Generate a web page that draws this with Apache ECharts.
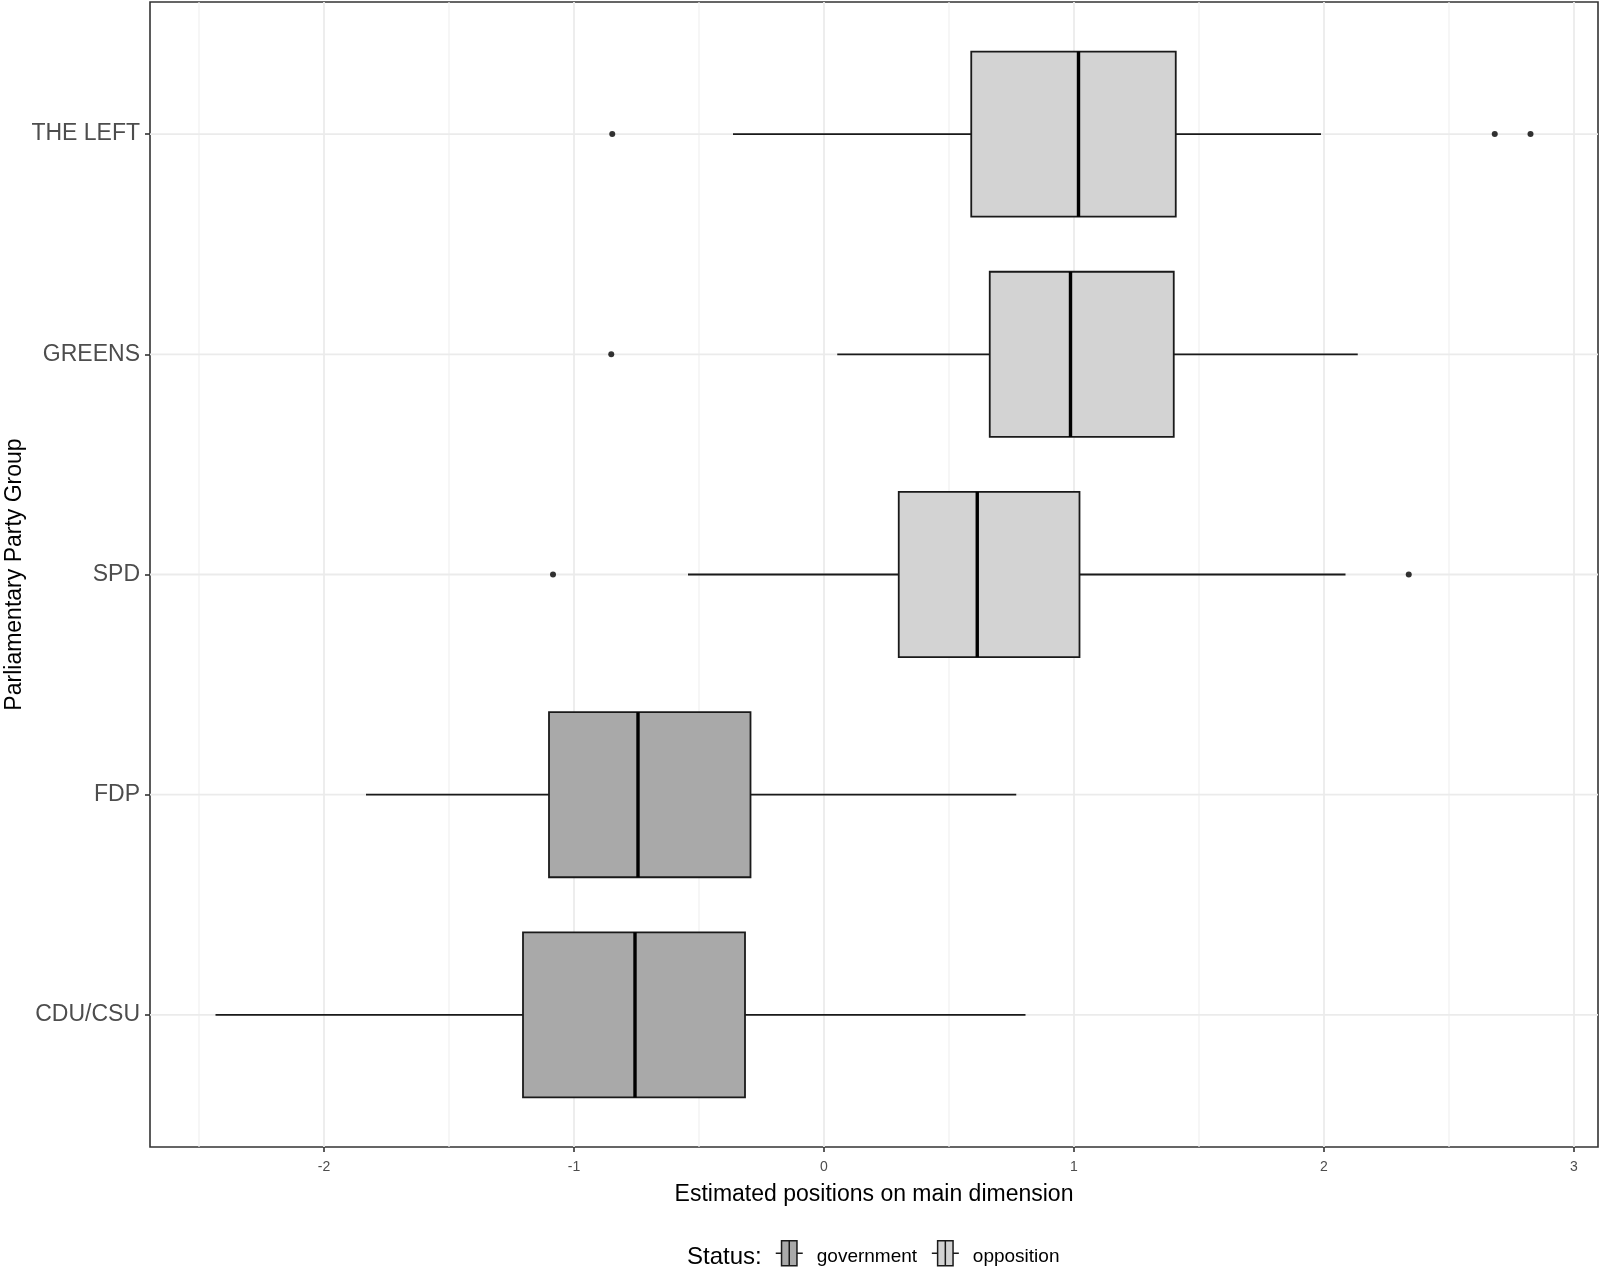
<!DOCTYPE html>
<html>
<head>
<meta charset="utf-8">
<script src="https://cdn.jsdelivr.net/npm/echarts@6/dist/echarts.min.js"></script>
<style>
html,body{margin:0;padding:0;background:#fff;}
#chart{width:1600px;height:1270px;}
</style>
</head>
<body>
<div id="chart"></div>
<script>
// ---- data ----
const categories = ['CDU/CSU', 'FDP', 'SPD', 'GREENS', 'THE LEFT'];
const status = ['government', 'government', 'opposition', 'opposition', 'opposition'];
const whiskerLow = [-2.434, -1.832, -0.544, 0.053, -0.364];
const q1 = [-1.204, -1.100, 0.299, 0.663, 0.589];
const median = [-0.756, -0.744, 0.613, 0.986, 1.018];
const q3 = [-0.316, -0.294, 1.022, 1.399, 1.407];
const whiskerHigh = [0.806, 0.769, 2.086, 2.135, 1.988];
const outlierParty = ['SPD', 'SPD', 'GREENS', 'THE LEFT', 'THE LEFT', 'THE LEFT'];
const outlierValue = [-1.084, 2.339, -0.851, -0.847, 2.683, 2.826];
const xTicks = [-2, -1, 0, 1, 2, 3];
const xMinor = [-2.5, -1.5, -0.5, 0.5, 1.5, 2.5];
const statusLevels = ['government', 'opposition'];

const FONT = 'Liberation Sans, Arial, sans-serif';
const fillColors = { government: '#A9A9A9', opposition: '#D3D3D3' };
const X_MIN = -2.696, X_MAX = 3.096, Y_MIN = -0.6, Y_MAX = categories.length - 1 + 0.6;

function boxRows(st) {
  const rows = [];
  categories.forEach((c, i) => {
    if (status[i] === st) rows.push([i, whiskerLow[i], q1[i], median[i], q3[i], whiskerHigh[i]]);
  });
  return rows;
}

function renderBox(params, api) {
  const y = api.value(0);
  const pLow = api.coord([api.value(1), y]);
  const pQ1 = api.coord([api.value(2), y]);
  const pMed = api.coord([api.value(3), y]);
  const pQ3 = api.coord([api.value(4), y]);
  const pHigh = api.coord([api.value(5), y]);
  const h = api.size([0, 0.75])[1];
  const fill = api.visual('color');
  const stroke = '#1a1a1a';
  return {
    type: 'group',
    children: [
      { type: 'line', shape: { x1: pLow[0], y1: pLow[1], x2: pQ1[0], y2: pQ1[1] }, style: { stroke: stroke, lineWidth: 1.8 } },
      { type: 'line', shape: { x1: pQ3[0], y1: pQ3[1], x2: pHigh[0], y2: pHigh[1] }, style: { stroke: stroke, lineWidth: 1.8 } },
      { type: 'rect', shape: { x: pQ1[0], y: pQ1[1] - h / 2, width: pQ3[0] - pQ1[0], height: h }, style: { fill: fill, stroke: stroke, lineWidth: 1.8 } },
      { type: 'line', shape: { x1: pMed[0], y1: pMed[1] - h / 2, x2: pMed[0], y2: pMed[1] + h / 2 }, style: { stroke: '#000', lineWidth: 3.4 } }
    ]
  };
}

// grid lines data: [kind, value]; kind 0 = major vertical, 1 = minor vertical, 2 = horizontal
const gridLineRows = [];
xTicks.forEach(v => gridLineRows.push([0, v]));
xMinor.forEach(v => gridLineRows.push([1, v]));
categories.forEach((c, i) => gridLineRows.push([2, i]));

function renderGridLine(params, api) {
  const kind = api.value(0);
  const v = api.value(1);
  let a, b;
  if (kind === 2) { a = api.coord([X_MIN, v]); b = api.coord([X_MAX, v]); }
  else { a = api.coord([v, Y_MIN]); b = api.coord([v, Y_MAX]); }
  return {
    type: 'line',
    shape: { x1: a[0], y1: a[1], x2: b[0], y2: b[1] },
    style: { stroke: kind === 1 ? '#F0F0F0' : '#EBEBEB', lineWidth: kind === 1 ? 1.2 : 1.8 }
  };
}

const iconPath = 'path://M0,14L6,14M6,1L14,1L14,27L6,27ZM14,1L22,1L22,27L14,27ZM22,14L28,14';

const chart = echarts.init(document.getElementById('chart'), null, { renderer: 'canvas' });
const option = {
  animation: false,
  backgroundColor: '#fff',
  textStyle: { fontFamily: FONT },
  grid: { left: 150, right: 2, top: 2, bottom: 123, show: true, borderColor: '#333', borderWidth: 1.6, backgroundColor: 'transparent', outerBoundsMode: 'none', containLabel: false },
  xAxis: {
    type: 'value', min: X_MIN, max: X_MAX,
    name: 'Estimated positions on main dimension', nameLocation: 'middle', nameGap: 36,
    nameTextStyle: { fontSize: 23, color: '#000', fontFamily: FONT },
    axisLine: { show: false, onZero: false },
    splitLine: { show: false },
    axisTick: { show: true, customValues: xTicks, length: 5, lineStyle: { color: '#333', width: 1.6 } },
    axisLabel: { customValues: xTicks, formatter: v => String(v), fontSize: 14, color: '#4D4D4D', margin: 13, fontFamily: FONT }
  },
  yAxis: {
    type: 'value', min: Y_MIN, max: Y_MAX,
    name: 'Parliamentary Party Group', nameLocation: 'middle', nameRotate: 90, nameGap: 124, nameMoveOverlap: false,
    nameTextStyle: { fontSize: 23, color: '#000', fontFamily: FONT },
    axisLine: { show: false, onZero: false },
    splitLine: { show: false },
    axisTick: { show: true, customValues: categories.map((c, i) => i), length: 5, lineStyle: { color: '#333', width: 1.6 } },
    axisLabel: { customValues: categories.map((c, i) => i), formatter: v => categories[Math.round(v)], fontSize: 23, color: '#4D4D4D', margin: 10, fontFamily: FONT }
  },
  legend: {
    left: 775, top: 1240, padding: 0, itemWidth: 27, itemHeight: 28, itemGap: 14, selectedMode: false,
    formatter: name => '{t|' + name + '}',
    textStyle: { fontSize: 19, color: '#000', fontFamily: FONT, padding: [0, 0, 0, 9],
      rich: { t: { fontSize: 19, color: '#000', fontFamily: FONT, padding: [6, 0, 0, 0] } } },
    data: statusLevels.map(s => ({ name: s, icon: iconPath, itemStyle: { color: fillColors[s], borderColor: '#1a1a1a', borderWidth: 1.5 } }))
  },
  graphic: [
    { type: 'text', x: 687, y: 1257, style: { text: 'Status:', fontSize: 24, fill: '#000', fontFamily: FONT, verticalAlign: 'middle' } }
  ],
  series: [
    { name: 'gridlines', type: 'custom', silent: true, z: 1, renderItem: renderGridLine, data: gridLineRows, encode: { x: 1, y: 1 }, clip: false },
    ...statusLevels.map(s => ({
      name: s, type: 'custom', z: 3, renderItem: renderBox,
      itemStyle: { color: fillColors[s] },
      encode: { y: 0, x: [1, 2, 3, 4, 5] },
      data: boxRows(s)
    })),
    {
      name: 'outliers', type: 'scatter', z: 4, symbol: 'circle', symbolSize: 6,
      itemStyle: { color: '#000' },
      data: outlierValue.map((v, k) => [v, categories.indexOf(outlierParty[k])])
    }
  ]
};
chart.setOption(option);
</script>
</body>
</html>
